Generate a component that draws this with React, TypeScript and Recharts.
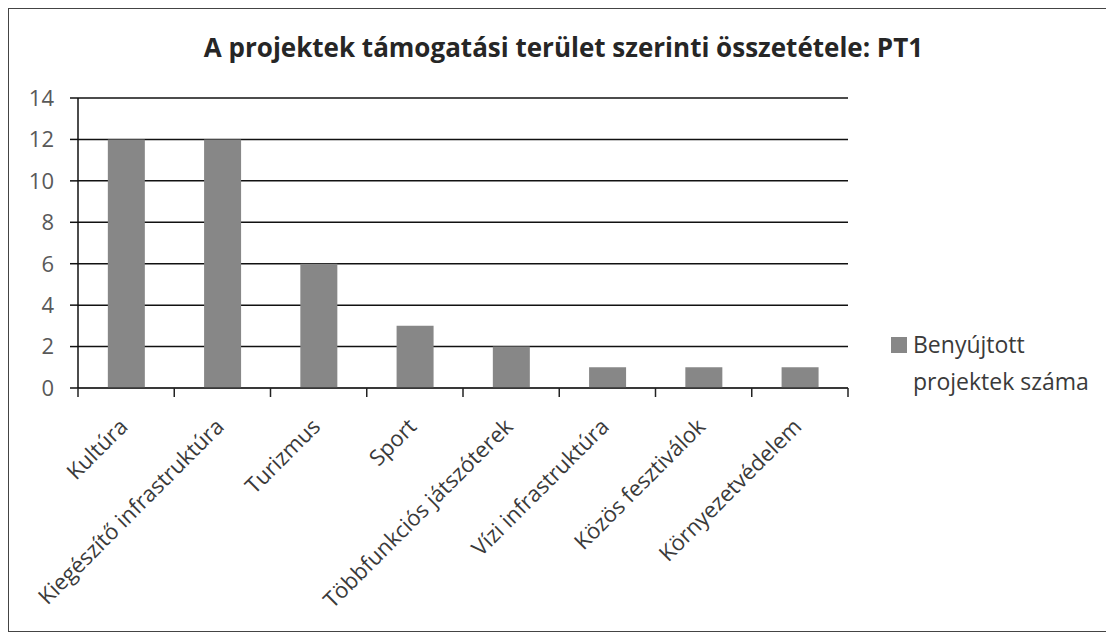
import React from 'react';
import { BarChart, Bar, XAxis, YAxis, CartesianGrid } from 'recharts';

const categories = [
  'Kultúra',
  'Kiegészítő infrastruktúra',
  'Turizmus',
  'Sport',
  'Többfunkciós játszóterek',
  'Vízi infrastruktúra',
  'Közös fesztiválok',
  'Környezetvédelem',
];
const projectCounts = [12, 12, 6, 3, 2, 1, 1, 1];
const yTicks = [0, 2, 4, 6, 8, 10, 12, 14];

const seriesName = 'Benyújtott projektek száma';
const title = 'A projektek támogatási terület szerinti összetétele: PT1';

const data = categories.map((name, i) => ({ name, value: projectCounts[i] }));

const FONT = '"Open Sans", "Liberation Sans", sans-serif';
const BAR = '#878787';
const CHART_W = 1106;
const CHART_H = 624;
const PLOT_LEFT = 70;
const PLOT_RIGHT = 840;
const BAND = (PLOT_RIGHT - PLOT_LEFT) / categories.length;

const XTick = (props: any) => {
  const { x, y, payload, index } = props;
  return (
    <g>
      {index === 0 && (
        <line x1={x - BAND / 2} y1={y - 8} x2={x - BAND / 2} y2={y + 1} stroke="#222" strokeWidth={1.5} />
      )}
      <line x1={x + BAND / 2} y1={y - 8} x2={x + BAND / 2} y2={y + 1} stroke="#222" strokeWidth={1.5} />
      <text
        transform={`translate(${x + 3},${y + 32}) rotate(-45)`}
        textAnchor="end"
        fontSize={22}
        fontFamily={FONT}
        fill="#3a3a3a"
      >
        {payload.value}
      </text>
    </g>
  );
};

export default function App() {
  return (
    <div style={{ position: 'relative', width: CHART_W, height: CHART_H }}>
      <div
        style={{
          position: 'absolute',
          left: 0,
          top: 0,
          width: CHART_W,
          height: CHART_H,
          boxSizing: 'border-box',
          borderLeft: '1.5px solid #444',
          borderTop: '1.5px solid #444',
          borderBottom: '1.5px solid #444',
        }}
      />
      <div
        style={{
          position: 'absolute',
          left: 20,
          top: 21,
          width: 1071,
          textAlign: 'center',
          fontFamily: FONT,
          fontWeight: 700,
          fontSize: 26,
          color: '#262626',
          whiteSpace: 'nowrap',
        }}
      >
        {title}
      </div>
      <div style={{ position: 'absolute', left: 0, top: 0 }}>
        <BarChart
          width={CHART_W}
          height={CHART_H}
          data={data}
          margin={{ top: 90, right: CHART_W - PLOT_RIGHT, bottom: 214, left: 10 }}
          barCategoryGap="31%"
        >
          <CartesianGrid vertical={false} stroke="#111" strokeWidth={1.5} />
          <XAxis
            dataKey="name"
            interval={0}
            height={30}
            tickLine={false}
            axisLine={{ stroke: '#333', strokeWidth: 1.5 }}
            tick={<XTick />}
          />
          <YAxis
            width={60}
            domain={[0, 14]}
            ticks={yTicks}
            tickSize={8}
            tickMargin={16}
            tickLine={{ stroke: '#111', strokeWidth: 1.5 }}
            axisLine={{ stroke: '#111', strokeWidth: 1.5 }}
            tick={{ fontSize: 22, fontFamily: FONT, fill: '#595959' }}
          />
          <Bar dataKey="value" name={seriesName} fill={BAR} isAnimationActive={false} />
        </BarChart>
      </div>
      <div
        style={{
          position: 'absolute',
          left: 883,
          top: 318,
          fontFamily: FONT,
          fontSize: 23,
          color: '#3a3a3a',
          lineHeight: '37px',
          whiteSpace: 'nowrap',
        }}
      >
        <div style={{ display: 'flex', alignItems: 'center' }}>
          <span style={{ display: 'inline-block', width: 16, height: 16, background: BAR, marginRight: 6 }} />
          Benyújtott
        </div>
        <div style={{ paddingLeft: 22 }}>projektek száma</div>
      </div>
    </div>
  );
}
